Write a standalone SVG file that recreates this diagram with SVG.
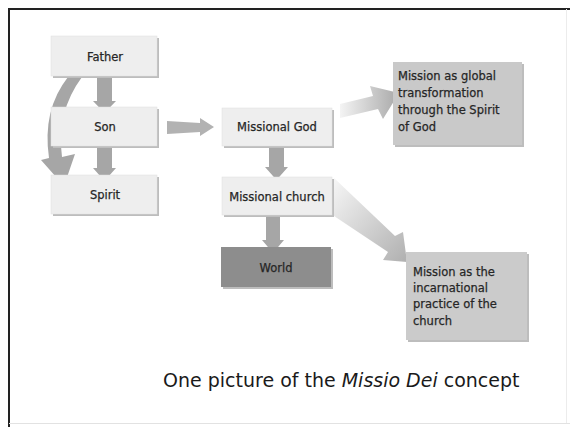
<svg xmlns="http://www.w3.org/2000/svg" width="570" height="427" viewBox="0 0 570 427">
<defs>
<style>
.lbl{font-family:"DejaVu Sans",sans-serif;font-size:11.5px;fill:#262626;stroke:#262626;stroke-width:0.25;text-anchor:middle}
.txt{font-family:"DejaVu Sans",sans-serif;font-size:11.5px;fill:#262626;stroke:#262626;stroke-width:0.25}
.box{fill:#eeeeee;stroke:#e0e0e0;stroke-width:0.5}
.shadow{fill:#bdbdbd}
.arr{fill:#a6a6a6}
.cap{font-family:"DejaVu Sans",sans-serif;font-size:19px;fill:#1a1a1a}
</style>
<linearGradient id="g1" x1="0" y1="0" x2="1" y2="0">
<stop offset="0" stop-color="#f4f4f4"/>
<stop offset="1" stop-color="#a8a8a8"/>
</linearGradient>
<linearGradient id="g2" x1="0" y1="0" x2="1" y2="1">
<stop offset="0" stop-color="#f6f6f6"/>
<stop offset="1" stop-color="#b0b0b0"/>
</linearGradient>
</defs>
<rect width="570" height="427" fill="#ffffff"/>
<!-- frame -->
<path d="M9,427 V9 H570" fill="none" stroke="#222" stroke-width="2"/>
<line x1="9" y1="423.5" x2="570" y2="423.5" stroke="#e2e2e2" stroke-width="1"/>
<line x1="566.5" y1="9" x2="566.5" y2="423" stroke="#ececec" stroke-width="1"/>

<g id="connectors">
<!-- curved Father -> Spirit -->
<path class="arr" d="M68,77 Q42,110 49,158 L41,160 L64,186 L75,154 L62,157 Q56,112 82,77 Z"/>
<!-- Father -> Son -->
<polygon class="arr" points="97,77 112,77 112,101 116,101 104.5,113 93,101 97,101"/>
<!-- Son -> Spirit -->
<polygon class="arr" points="97,147 112,147 112,168 116,168 104.5,181 93,168 97,168"/>
<!-- Son -> Missional God -->
<polygon fill="#aaaaaa" opacity="0.9" points="167,121 200,123 200,118 214,127 200,136 200,132 167,134"/>
<!-- Missional God -> Missional church -->
<polygon class="arr" points="269,147 284,147 284,167 288,167 276.5,180 265,167 269,167"/>
<!-- Missional church -> World -->
<polygon class="arr" points="266,217 280,217 280,240 284,240 273,253 262,240 266,240"/>
<!-- Missional God -> global transformation -->
<polygon fill="url(#g1)" points="340,104 373,96 370,86 399,93 383,119 378,109 340,118"/>
<!-- Missional church -> incarnational -->
<polygon fill="url(#g2)" points="334,178 395,236 403,232 407,262 383,260 388,252 334,216"/>
</g>

<g id="father">
<rect class="shadow" x="53" y="38" width="106" height="40"/>
<rect class="box" x="51" y="36" width="106" height="40"/>
<text class="lbl" x="105" y="61">Father</text>
</g>
<g id="son">
<rect class="shadow" x="53" y="109" width="106" height="39"/>
<rect class="box" x="51" y="107" width="106" height="39"/>
<text class="lbl" x="105" y="131">Son</text>
</g>
<g id="spirit">
<rect class="shadow" x="53" y="177" width="106" height="39"/>
<rect class="box" x="51" y="175" width="106" height="39"/>
<text class="lbl" x="105" y="199">Spirit</text>
</g>
<g id="missional-god">
<rect class="shadow" x="224" y="110" width="110" height="38"/>
<rect class="box" x="222" y="108" width="110" height="38"/>
<text class="lbl" x="277" y="131">Missional God</text>
</g>
<g id="missional-church">
<rect class="shadow" x="224" y="179" width="110" height="38"/>
<rect class="box" x="222" y="177" width="110" height="38"/>
<text class="lbl" x="277" y="201">Missional church</text>
</g>
<g id="world">
<rect class="shadow" x="223" y="249" width="110" height="40"/>
<rect x="221" y="247" width="110" height="40" fill="#8d8d8d"/>
<text class="lbl" x="276" y="272">World</text>
</g>
<g id="global-transformation">
<rect class="shadow" x="395" y="64" width="129" height="83"/>
<rect x="393" y="62" width="129" height="83" fill="#c9c9c9"/>
<text class="txt" x="398" y="80">Mission as global</text>
<text class="txt" x="398" y="97">transformation</text>
<text class="txt" x="398" y="114">through the Spirit</text>
<text class="txt" x="398" y="131">of God</text>
</g>
<g id="incarnational-practice">
<rect class="shadow" x="408" y="254" width="121" height="88"/>
<rect x="406" y="252" width="121" height="88" fill="#cbcbcb"/>
<text class="txt" x="413" y="276">Mission as the</text>
<text class="txt" x="413" y="292">incarnational</text>
<text class="txt" x="413" y="308">practice of the</text>
<text class="txt" x="413" y="325">church</text>
</g>
<text class="cap" x="163" y="387">One picture of the <tspan font-style="italic">Missio Dei</tspan> concept</text>
</svg>
